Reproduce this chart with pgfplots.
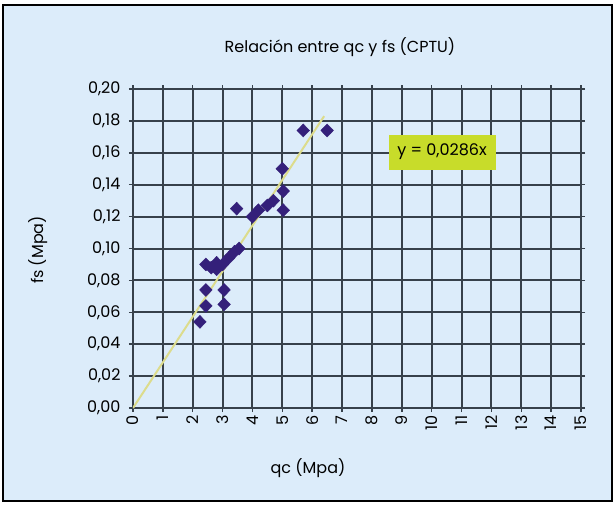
\documentclass[border=0pt]{standalone}
\usepackage{fontspec}
\setmainfont{Poppins}
\usepackage{pgfplots}
\pgfplotsset{compat=1.18}
\definecolor{bgblue}{HTML}{DCECFA}
\definecolor{gridgray}{HTML}{37414B}
\definecolor{dotpurple}{HTML}{34207A}
\definecolor{trendyel}{HTML}{DCDC8C}
\definecolor{eqbox}{HTML}{C8DC2A}

\begin{document}
\begin{tikzpicture}[x=1pt,y=1pt]
% page size and outer frame
\path (-133,-96) rectangle (482,408);
\filldraw[fill=bgblue, draw=black, line width=2.5pt] (-130,-93) rectangle (479,403);
\begin{axis}[
  at={(0,0)}, anchor=south west,
  scale only axis,
  width=448pt, height=319pt,
  xmin=0, xmax=15, ymin=0, ymax=0.2,
  xtick={0,1,...,15},
  ytick={0,0.02,...,0.2},
  grid=major,
  grid style={gridgray, line width=2pt},
  axis line style={gridgray, line width=2pt},
  major tick style={gridgray, line width=1.5pt},
  tick align=outside,
  major tick length=4pt,
  x tick label style={rotate=90, anchor=east, font=\fontsize{16}{18}\selectfont},
  y tick label style={font=\fontsize{16}{18}\selectfont, xshift=-5pt},
  yticklabel style={/pgf/number format/.cd, fixed, fixed zerofill, precision=2, use comma},
  /pgf/number format/assume math mode=true,
  axis background/.style={fill=bgblue},
]
\addplot[trendyel, line width=2pt] coordinates {(0,0) (6.4,0.183)};
\addplot[only marks, mark=diamond*, mark size=6.5pt, mark options={fill=dotpurple, draw=dotpurple, xscale=1.3}] coordinates {
  (2.24,0.054) (2.44,0.064) (3.05,0.065) (2.44,0.074) (3.05,0.074)
  (2.44,0.090) (2.62,0.088) (2.8,0.087) (2.8,0.091) (3.0,0.090)
  (3.2,0.094) (3.4,0.098) (3.55,0.100) (3.47,0.125) (4.0,0.120)
  (4.2,0.124) (4.5,0.127) (4.7,0.130) (5.03,0.124) (5.03,0.136)
  (5.0,0.150) (5.7,0.174) (6.5,0.174)
};
\end{axis}
\node[fill=eqbox, minimum width=107pt, minimum height=35pt, inner sep=1pt, font=\fontsize{16}{18}\selectfont] at (309,256) {y = 0,0286x};
\node[font=\fontsize{16}{18}\selectfont] at (207,361) {Relación entre qc y fs (CPTU)};
\node[font=\fontsize{16}{18}\selectfont] at (175,-60) {qc (Mpa)};
\node[font=\fontsize{16}{18}\selectfont, rotate=90] at (-95,158) {fs (Mpa)};
\end{tikzpicture}
\end{document}
